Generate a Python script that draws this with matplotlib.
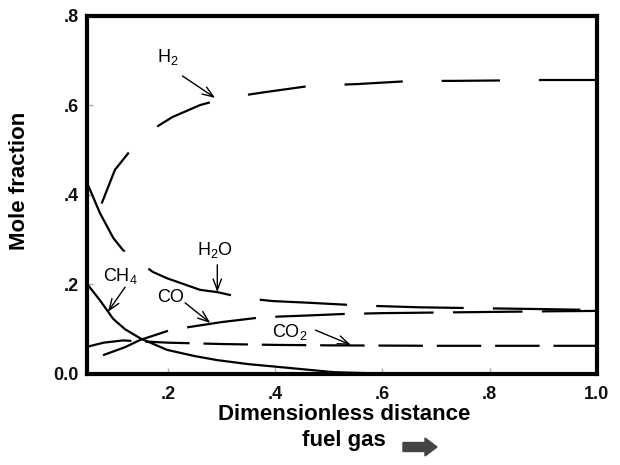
import numpy as np
import matplotlib
matplotlib.use('Agg')
import matplotlib.pyplot as plt
import matplotlib.patches as mpatches
from matplotlib.transforms import IdentityTransform

plt.rcParams['font.family'] = ['Liberation Sans', 'DejaVu Sans']
plt.rcParams['mathtext.fontset'] = 'custom'
plt.rcParams['mathtext.rm'] = 'Liberation Sans'
plt.rcParams['mathtext.it'] = 'Liberation Sans'
plt.rcParams['lines.scale_dashes'] = False

# values
h2_x = [0.05, 0.06, 0.07, 0.079, 0.101, 0.137, 0.157, 0.208, 0.26, 0.309, 0.382,
        0.466, 0.555, 0.656, 0.73, 0.83, 0.9, 1.0]
h2_y = [0.30, 0.33, 0.362, 0.389, 0.456, 0.51, 0.536, 0.574, 0.601, 0.617, 0.630,
        0.644, 0.648, 0.655, 0.655, 0.656, 0.657, 0.657]

h2o_x = [0.051, 0.073, 0.098, 0.116, 0.172, 0.198, 0.26, 0.292, 0.34, 0.395, 0.466,
         0.56, 0.67, 0.78, 0.9, 1.0]
h2o_y = [0.422, 0.36, 0.304, 0.277, 0.228, 0.214, 0.188, 0.183, 0.170, 0.163, 0.159,
         0.153, 0.149, 0.147, 0.145, 0.143]

co_x = [0.079, 0.12, 0.148, 0.204, 0.24, 0.3, 0.363, 0.40, 0.466, 0.525, 0.6, 0.75,
        0.9, 1.0]
co_y = [0.042, 0.060, 0.076, 0.098, 0.105, 0.116, 0.125, 0.128, 0.131, 0.134, 0.136,
        0.138, 0.140, 0.141]

co2_x = [0.05, 0.08, 0.116, 0.15, 0.2, 0.3, 0.4, 0.5, 0.7, 1.0]
co2_y = [0.061, 0.070, 0.075, 0.073, 0.070, 0.067, 0.065, 0.064, 0.063, 0.063]

ch4_x = [0.05, 0.073, 0.098, 0.12, 0.148, 0.198, 0.25, 0.292, 0.35, 0.404, 0.466,
         0.51, 0.6, 0.8, 1.0]
ch4_y = [0.200, 0.165, 0.123, 0.100, 0.080, 0.054, 0.040, 0.031, 0.022, 0.016, 0.009,
         0.004, 0.001, 0.0, 0.0]

x_ticks = [0.2, 0.4, 0.6, 0.8, 1.0]
x_tick_labels = ['.2', '.4', '.6', '.8', '1.0']
y_ticks = [0.0, 0.2, 0.4, 0.6, 0.8]
y_tick_labels = ['0.0', '.2', '.4', '.6', '.8']

# label text, text position, arrow start, arrow end
labels = [
    ('H$_2$', (0.199, 0.708), (0.227, 0.666), (0.288, 0.617)),
    ('H$_2$O', (0.288, 0.277), (0.292, 0.244), (0.292, 0.183)),
    ('CH$_4$', (0.111, 0.219), (0.120, 0.194), (0.088, 0.139)),
    ('CO', (0.204, 0.170), (0.232, 0.159), (0.279, 0.114)),
    ('CO$_2$', (0.428, 0.094), (0.475, 0.098), (0.541, 0.065)),
]

fig = plt.figure(figsize=(6.2, 4.65), dpi=100)
ax = fig.add_axes([0.1403, 0.1957, 0.8226, 0.7699])

lw = 1.6
# dash patterns in points (dash scaling off)
ax.plot(h2_x, h2_y, color='black', lw=lw, linestyle=(42, (42, 28)))
ax.plot(h2o_x, h2o_y, color='black', lw=lw, linestyle=(8, (63, 21)))
ax.plot(co_x, co_y, color='black', lw=lw, linestyle=(0, (50, 14)))
ax.plot(co2_x, co2_y, color='black', lw=lw, linestyle=(0, (32, 10)))
ax.plot(ch4_x, ch4_y, color='black', lw=lw, linestyle='-')

for text, tpos, start, end in labels:
    ax.text(tpos[0], tpos[1], text, fontsize=13, ha='center', va='center')
    ax.annotate('', xy=end, xytext=start,
                arrowprops=dict(arrowstyle='->,head_length=0.8,head_width=0.3',
                                color='black', lw=1.0, shrinkA=0, shrinkB=0))

ax.set_xlim(0.049, 1.0)
ax.set_ylim(0.0, 0.8)
ax.set_xticks(x_ticks)
ax.set_xticklabels(x_tick_labels)
ax.set_yticks(y_ticks)
ax.set_yticklabels(y_tick_labels)
ax.tick_params(direction='in', length=4, width=1, color='#aaaaaa',
               labelsize=13, labelcolor='#111111')
ax.tick_params(axis='x', pad=9)
ax.tick_params(axis='y', pad=6)
for lab in ax.get_xticklabels() + ax.get_yticklabels():
    lab.set_fontweight('bold')

for spine in ax.spines.values():
    spine.set_linewidth(3.0)

ax.set_ylabel('Mole fraction', fontsize=16, fontweight='bold')
ax.yaxis.set_label_coords(-0.112, 0.54)
ax.set_xlabel('Dimensionless distance\nfuel gas', fontsize=16, fontweight='bold',
              linespacing=1.3)
ax.xaxis.set_label_coords(0.504, -0.085)

# block arrow after "fuel gas" (pixel coords)
arrow = mpatches.FancyArrow(403, 18, 22, 0, width=9, head_width=18, head_length=12,
                            length_includes_head=False, transform=IdentityTransform(),
                            color='#444444')
fig.patches.append(arrow)

fig.savefig('out.png', dpi=100)
